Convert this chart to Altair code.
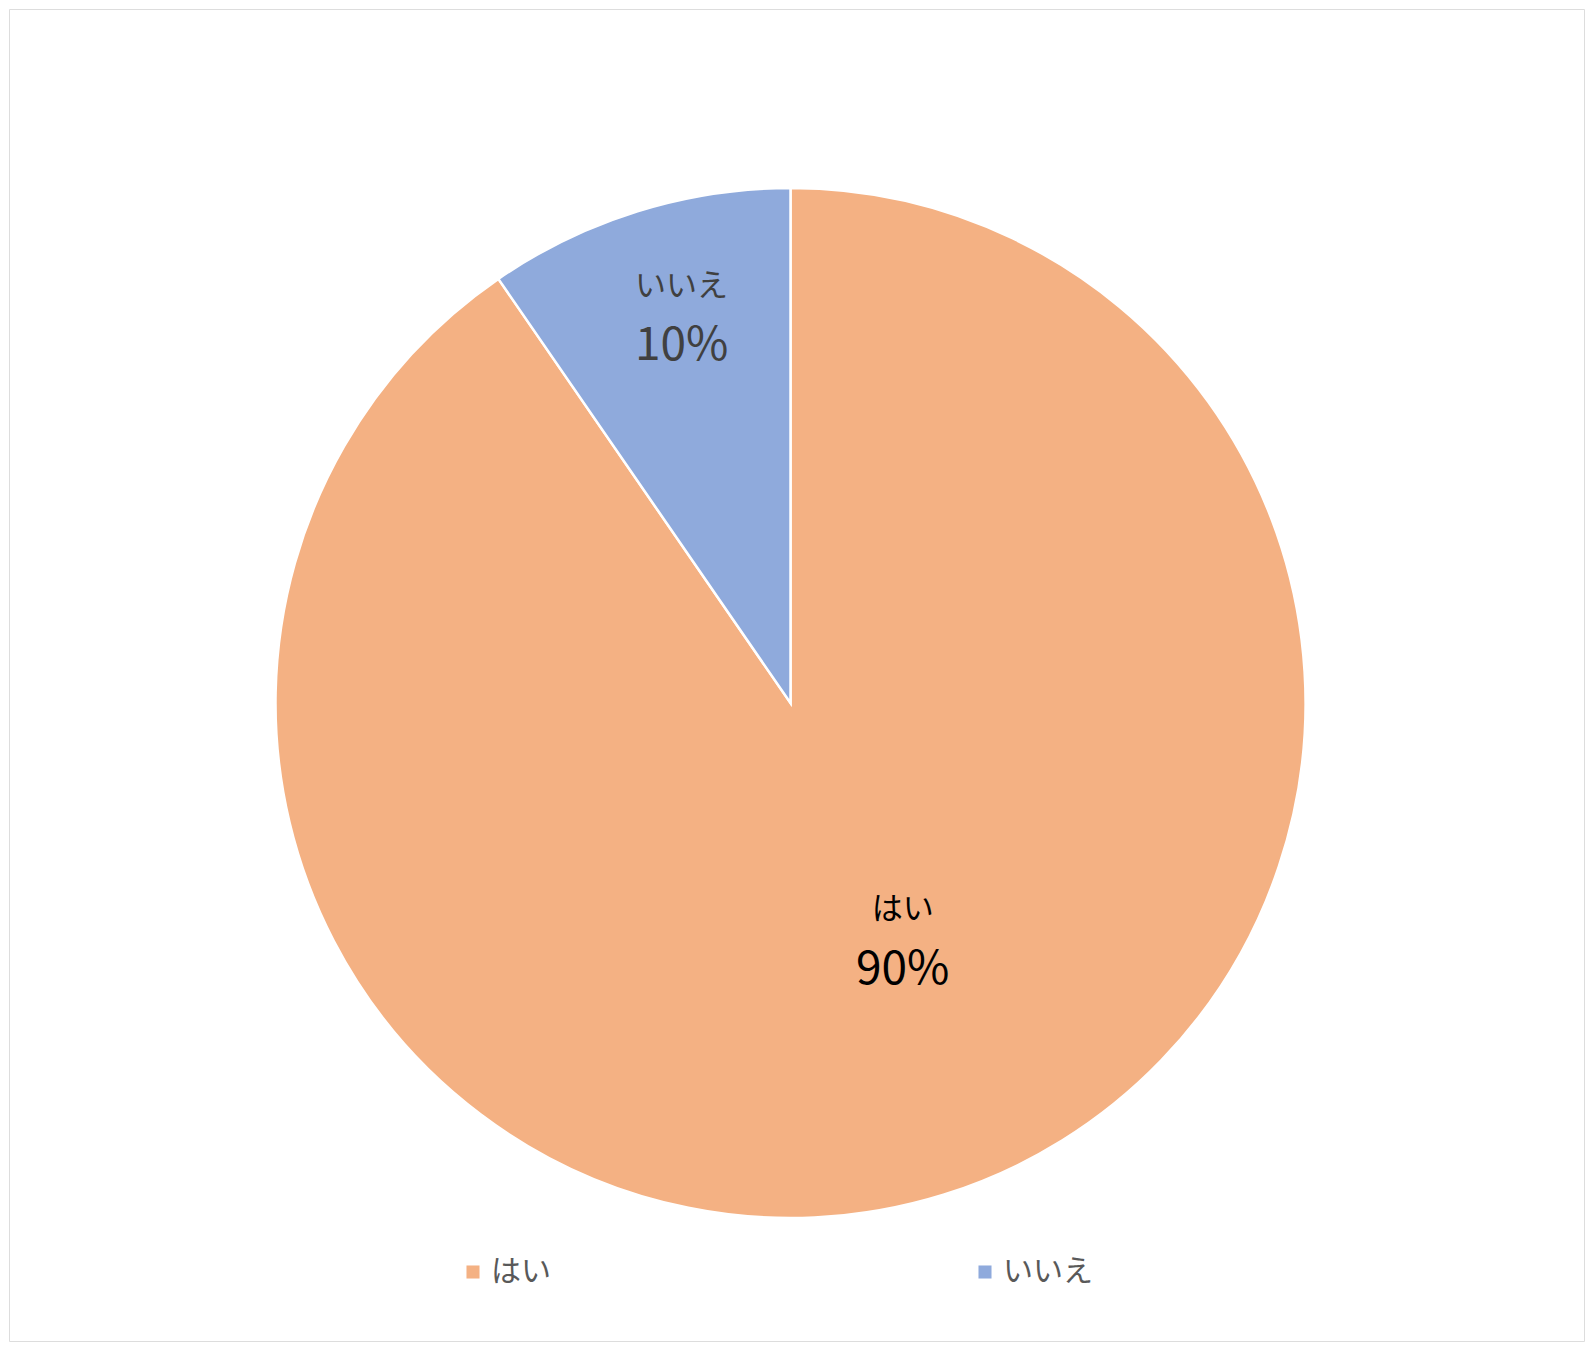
import altair as alt
import pandas as pd

categories = ["はい", "いいえ"]
values = [90.4, 9.6]
pct_labels = ["90%", "10%"]
colors = ["#F4B183", "#8FAADC"]

df = pd.DataFrame({
    "category": categories,
    "value": values,
    "pct": pct_labels,
    "order": list(range(len(categories))),
})

FONT = "Noto Sans CJK JP"
CX, CY, R = 781.5, 694, 515

base = alt.Chart(df).transform_window(
    cum="sum(value)", sort=[{"field": "order"}], frame=[None, 0]
).transform_calculate(mid="datum.cum - datum.value / 2")

arc = alt.Chart(df).mark_arc(outerRadius=R, stroke="white", strokeWidth=2.5).encode(
    theta=alt.Theta("value:Q", stack=True),
    color=alt.Color(
        "category:N",
        scale=alt.Scale(domain=categories, range=colors),
        sort=categories,
        legend=alt.Legend(
            title=None, orient="none", direction="horizontal",
            legendX=449, legendY=1248,
            symbolType="square", symbolSize=170, symbolStrokeWidth=0,
            labelFont=FONT, labelFontSize=30, labelColor="#595959",
            labelOffset=3, columnPadding=419,
        ),
    ),
    order=alt.Order("order:Q"),
    x=alt.value(CX), y=alt.value(CY),
)


def label(cat, field, radius, dx, dy, size, color):
    return base.transform_filter(alt.datum.category == cat).mark_text(
        font=FONT, fontSize=size, color=color, dx=dx, dy=dy,
        align="center", baseline="middle",
    ).encode(
        theta=alt.Theta("mid:Q", stack=False),
        radius=alt.value(radius),
        text=alt.Text(f"{field}:N"),
        x=alt.value(CX), y=alt.value(CY),
    )


layers = [
    arc,
    label("いいえ", "category", 380, 4, -53, 31, "#404040"),
    label("いいえ", "pct", 380, 4, 5.5, 46, "#404040"),
    label("はい", "category", 260, 35, -41.5, 31, "#000000"),
    label("はい", "pct", 260, 35, 18.5, 46, "#000000"),
]

chart = alt.layer(*layers).properties(
    width=1575, height=1332, autosize="none", padding=1,
).configure_view(stroke="#D9D9D9", strokeWidth=1.5).configure(background="white")

chart.save("out.html", embed_options={"renderer": "svg", "actions": False})
